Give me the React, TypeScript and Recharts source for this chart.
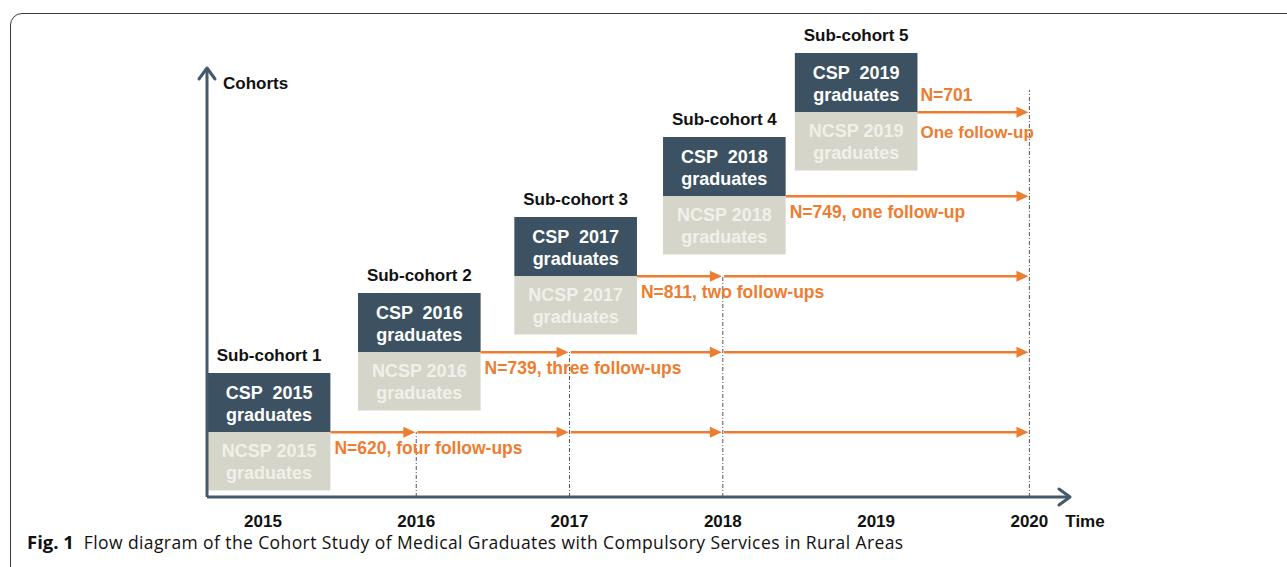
import React from 'react';
import { ComposedChart, XAxis, YAxis, ReferenceArea, ReferenceLine, ReferenceDot, Scatter } from 'recharts';

const yearTicks = [2015, 2016, 2017, 2018, 2019, 2020];
const cohortYears = [2015, 2016, 2017, 2018, 2019];
const cohortN = [620, 739, 811, 749, 701];
const followUpText = ['four follow-ups', 'three follow-ups', 'two follow-ups', 'one follow-up', 'One follow-up'];
// box centre (years) and the CSP/NCSP split level of each sub-cohort
const boxCenter = [2015.04, 2016.02, 2017.04, 2018.01, 2018.87];
const boxLevel = [0.81, 1.81, 2.76, 3.76, 4.81];
// follow-up years and how high the dotted guide goes
const followUpYears = [2016, 2017, 2018, 2020];
const guideTop = [0.81, 1.81, 2.76, 5.09];

const X_MIN = 2014.635;
const X_MAX = 2020.265;
const Y_MAX = 5.9625;
const Y_ARROW = 5.3625;
const BOX_W = 0.8;
const CSP_H = 0.74;
const NCSP_H = 0.73;

const DARK = '#3c5263';
const LIGHT = '#d6d5c9';
const ORANGE = '#ed7d31';
const AXIS = '#44596b';
const FONT = '"Liberation Sans", Arial, sans-serif';

const segments = cohortYears.flatMap((yr, i) => {
  let from = boxCenter[i] + BOX_W / 2;
  return followUpYears
    .filter((f) => f > yr)
    .map((f) => {
      const s = { x1: from, x2: f - 0.006, y: boxLevel[i] };
      from = f + 0.008;
      return s;
    });
});

const cohortPts = cohortYears.map((yr, i) => ({ x: boxCenter[i], y: boxLevel[i], year: yr, idx: i }));
const nPts = cohortYears.map((yr, i) => ({
  x: boxCenter[i] + BOX_W / 2,
  y: boxLevel[i],
  n: cohortN[i],
  text: followUpText[i],
  split: i === cohortYears.length - 1,
}));

const CohortShape = (props: any) => {
  const { cx, cy, payload } = props;
  const t = { textAnchor: 'middle' as const, fontFamily: FONT, fontWeight: 700, style: { whiteSpace: 'pre' as const } };
  return (
    <g>
      <text x={cx} y={cy - 71} fontSize={17} fill="#111" {...t}>{`Sub-cohort ${payload.idx + 1}`}</text>
      <text x={cx} y={cy - 33.5} fontSize={18} fill="#fff" {...t}>{`CSP  ${payload.year}`}</text>
      <text x={cx} y={cy - 11.5} fontSize={18} fill="#fff" {...t}>graduates</text>
      <text x={cx} y={cy + 24.5} fontSize={18} fill="#f1f0ea" {...t}>{`NCSP ${payload.year}`}</text>
      <text x={cx} y={cy + 46.5} fontSize={18} fill="#f1f0ea" {...t}>graduates</text>
    </g>
  );
};

const NShape = (props: any) => {
  const { cx, cy, payload } = props;
  const t = { fontFamily: FONT, fontWeight: 700, fontSize: 17.5, fill: ORANGE };
  if (payload.split) {
    return (
      <g>
        <text x={cx + 3} y={cy - 11} {...t}>{`N=${payload.n}`}</text>
        <text x={cx + 3} y={cy + 26} {...t} fontSize={17}>{payload.text}</text>
      </g>
    );
  }
  return (
    <text x={cx + 4} y={cy + 22} {...t}>{`N=${payload.n}, ${payload.text}`}</text>
  );
};

const ArrowHead = (props: any) => {
  const { cx, cy } = props;
  return <polygon points={`${cx},${cy} ${cx - 12},${cy - 5.5} ${cx - 12},${cy + 5.5}`} fill={ORANGE} />;
};

const YArrow = (props: any) => {
  const { cx, cy } = props;
  return (
    <g>
      <path d={`M${cx - 8},${cy + 11} L${cx},${cy} L${cx + 8},${cy + 11}`} fill="none" stroke={AXIS} strokeWidth={3} strokeLinecap="round" strokeLinejoin="round" />
      <text x={cx + 16} y={cy + 21} fontFamily={FONT} fontWeight={700} fontSize={17} fill="#111">Cohorts</text>
    </g>
  );
};

const XArrow = (props: any) => {
  const { cx, cy } = props;
  return (
    <g>
      <path d={`M${cx - 11},${cy - 8} L${cx},${cy} L${cx - 11},${cy + 8}`} fill="none" stroke={AXIS} strokeWidth={3} strokeLinecap="round" strokeLinejoin="round" />
      <text x={cx + 15} y={cy + 30} textAnchor="middle" fontFamily={FONT} fontWeight={700} fontSize={17} fill="#111">Time</text>
    </g>
  );
};

export default function App() {
  return (
    <div style={{ position: 'absolute', left: 0, top: 0, width: 1287, height: 567, overflow: 'hidden', background: '#fff' }}>
      <div
        style={{
          position: 'absolute',
          left: 10,
          top: 13,
          width: 1400,
          height: 620,
          border: '1.5px solid #3a3a3a',
          borderRadius: 12,
          boxSizing: 'border-box',
        }}
      />
      <div style={{ position: 'absolute', left: 0, top: 0 }}>
        <ComposedChart width={1287} height={567} margin={{ top: 20, right: 217, bottom: 40, left: 207 }}>
          <XAxis
            type="number"
            dataKey="x"
            domain={[X_MIN, X_MAX]}
            ticks={yearTicks}
            allowDataOverflow
            axisLine={false}
            tickLine={false}
            tickSize={0}
            tickMargin={18}
            tick={{ fill: '#111', fontSize: 17, fontWeight: 700, fontFamily: FONT }}
          />
          <YAxis type="number" dataKey="y" domain={[0, Y_MAX]} allowDataOverflow hide />

          {cohortYears.map((yr, i) => (
            <ReferenceArea
              key={`csp-${yr}`}
              x1={boxCenter[i] - BOX_W / 2}
              x2={boxCenter[i] + BOX_W / 2}
              y1={boxLevel[i]}
              y2={boxLevel[i] + CSP_H}
              fill={DARK}
              fillOpacity={1}
              stroke="none"
              ifOverflow="visible"
            />
          ))}
          {cohortYears.map((yr, i) => (
            <ReferenceArea
              key={`ncsp-${yr}`}
              x1={boxCenter[i] - BOX_W / 2}
              x2={boxCenter[i] + BOX_W / 2}
              y1={boxLevel[i] - NCSP_H}
              y2={boxLevel[i]}
              fill={LIGHT}
              fillOpacity={1}
              stroke="none"
              ifOverflow="visible"
            />
          ))}

          {followUpYears.map((f, i) => (
            <ReferenceLine
              key={`guide-${f}`}
              segment={[{ x: f, y: 0 }, { x: f, y: guideTop[i] }]}
              stroke="#555"
              strokeWidth={1}
              strokeDasharray="4 2 1 2"
              ifOverflow="visible"
            />
          ))}

          <ReferenceLine segment={[{ x: X_MIN, y: 0 }, { x: X_MIN, y: Y_ARROW }]} stroke={AXIS} strokeWidth={3} ifOverflow="visible" />
          <ReferenceLine y={0} stroke={AXIS} strokeWidth={3} ifOverflow="visible" />
          <ReferenceDot x={X_MIN} y={Y_ARROW} r={1} shape={YArrow} ifOverflow="visible" />
          <ReferenceDot x={X_MAX} y={0} r={1} shape={XArrow} ifOverflow="visible" />

          {segments.map((s, k) => (
            <ReferenceLine
              key={`seg-${k}`}
              segment={[{ x: s.x1, y: s.y }, { x: s.x2 - 0.04, y: s.y }]}
              stroke={ORANGE}
              strokeWidth={2.5}
              ifOverflow="visible"
            />
          ))}
          {segments.map((s, k) => (
            <ReferenceDot key={`head-${k}`} x={s.x2} y={s.y} r={1} shape={ArrowHead} ifOverflow="visible" />
          ))}

          <Scatter data={cohortPts} shape={CohortShape} isAnimationActive={false} />
          <Scatter data={nPts} shape={NShape} isAnimationActive={false} />
        </ComposedChart>
      </div>
      <div
        style={{
          position: 'absolute',
          left: 27,
          top: 532,
          fontFamily: '"Open Sans", sans-serif',
          fontSize: 17.5,
          letterSpacing: 0.4,
          lineHeight: '20px',
          color: '#111',
          whiteSpace: 'nowrap',
        }}
      >
        <b style={{ fontSize: 18.5, letterSpacing: 0 }}>Fig. 1</b>
        {'\u00a0\u00a0'}Flow diagram of the Cohort Study of Medical Graduates with Compulsory Services in Rural Areas
      </div>
    </div>
  );
}
